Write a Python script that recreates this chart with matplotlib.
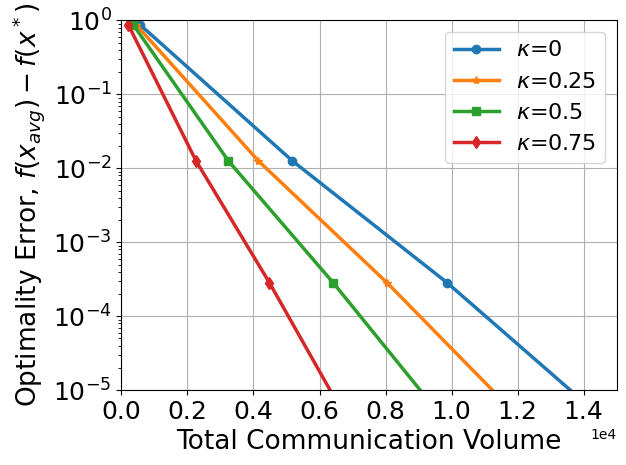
import matplotlib
matplotlib.use("Agg")
import matplotlib.pyplot as plt
import numpy as np

# communication volume at the plotted iterations, one list per kappa
kappas = ["0", "0.25", "0.5", "0.75"]
vol_k0 = [570, 5180, 9860, 14350]
vol_k25 = [450, 4150, 8040, 11880]
vol_k50 = [360, 3240, 6410, 9580]
vol_k75 = [210, 2260, 4480, 6690]
# optimality error at the same iterations (same for every kappa)
err = [0.87, 0.0126, 2.85e-4, 5.1e-6]

markers = ["o", "*", "s", "d"]

fig, ax = plt.subplots(figsize=(6.26, 4.65), dpi=100)

for vol, kap, mk in zip([vol_k0, vol_k25, vol_k50, vol_k75], kappas, markers):
    ax.semilogy(vol, err, marker=mk, linewidth=2.5, markersize=6,
                label=r"$\kappa$=" + kap)

ax.set_xlim(0, 15000)
ax.set_ylim(1e-5, 1)
ax.set_xticks(np.arange(0, 15000, 2000))
ax.ticklabel_format(axis="x", style="sci", scilimits=(0, 0))
ax.grid(True)
ax.tick_params(labelsize=18)
ax.set_xlabel("Total Communication Volume", fontsize=19)
ax.set_ylabel(r"Optimality Error, $f(x_{avg}) - f(x^*)$", fontsize=19)
ax.legend(fontsize=16, loc="upper right")

plt.subplots_adjust(left=0.194, right=0.985, top=0.956, bottom=0.161)
fig.savefig("out.png")
